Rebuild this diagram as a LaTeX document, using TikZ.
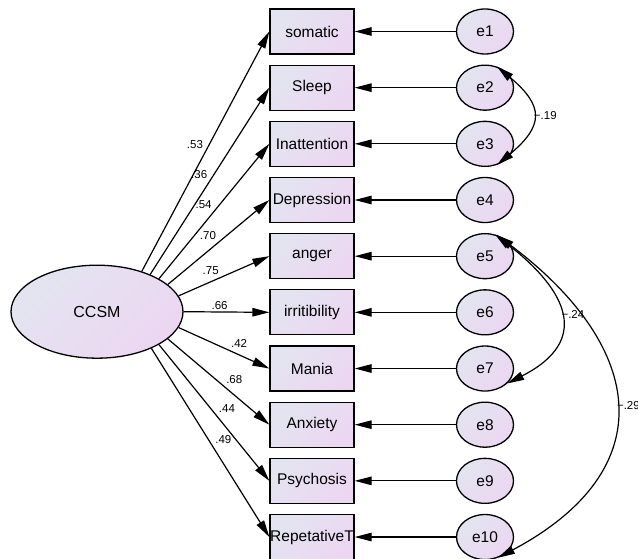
\documentclass[tikz,border=0pt]{standalone}
\usepackage{fontspec}
\setmainfont{Liberation Sans}
\usetikzlibrary{arrows.meta,shapes.geometric}
\definecolor{fillleft}{RGB}{226,229,240}
\definecolor{fillright}{RGB}{237,214,242}
\newcommand{\covminus}{\char"2212}

\begin{document}
\begin{tikzpicture}[x=1pt,y=1pt,
    obs/.style={draw,line width=1.3pt,rectangle,minimum width=84pt,minimum height=45pt,inner sep=0pt,
        left color=fillleft,right color=fillright,shading angle=45,font=\fontsize{15.5}{18}\selectfont},
    err/.style={draw,line width=1.3pt,ellipse,minimum width=57pt,minimum height=45pt,inner sep=0pt,
        left color=fillleft,right color=fillright,shading angle=45,font=\fontsize{15.5}{18}\selectfont},
    lat/.style={draw,line width=1.3pt,ellipse,minimum width=172pt,minimum height=93pt,inner sep=0pt,
        left color=fillleft,right color=fillright,shading angle=45,font=\fontsize{16}{18}\selectfont},
    path/.style={line width=1.2pt,-{Triangle[length=17pt,width=8.5pt]}},
    cov/.style={line width=1.2pt,{Triangle[length=17pt,width=8.5pt]}-{Triangle[length=17pt,width=8.5pt]}},
    coef/.style={font=\fontsize{11.5}{13}\selectfont,inner sep=2pt}]
    \useasboundingbox (0,0) rectangle (638,559);

    % Indicators and error terms
    \foreach \i/\txt in {1/somatic,2/Sleep,3/Inattention,4/Depression,5/anger,
                         6/irritibility,7/Mania,8/Anxiety,9/Psychosis,10/RepetativeT} {
        \node[obs] (v\i) at (312,{527.5-(\i-1)*56.17}) {\txt};
        \node[err] (e\i) at (485,{527.5-(\i-1)*56.17}) {e\i};
        \draw[path] (e\i) -- (v\i);
    }

    % Latent factor
    \node[lat] (ccsm) at (97,247.3) {CCSM};

    % Loadings
    \foreach \i/\c/\a/\p in {1/.53/42/.5,2/.36/35/.5,3/.54/28/.5,4/.70/21/.5,5/.75/11/.47,
                          6/.66/0/.42,7/.42/-11/.55,8/.68/-21/.55,9/.44/-28/.52,10/.49/-34/.52}
        \draw[path] (ccsm.\a) -- (v\i.west) node[pos=\p,auto,coef] {\c};

    % Error covariances
    \draw[cov] (e2.60) to[out=-40,in=40,looseness=1.6] node[right,coef,inner sep=1pt] {\covminus.19} (e3.-60);
    \draw[cov] (e5.65) to[out=-38,in=27,looseness=1.6] node[right,coef,inner sep=1pt] {\covminus.24} (e7.-34);
    \draw[cov] (e5.60) to[out=-37,in=28,looseness=1.48] node[right,coef,inner sep=1pt] {\covminus.29} (e10.-58);
\end{tikzpicture}
\end{document}
